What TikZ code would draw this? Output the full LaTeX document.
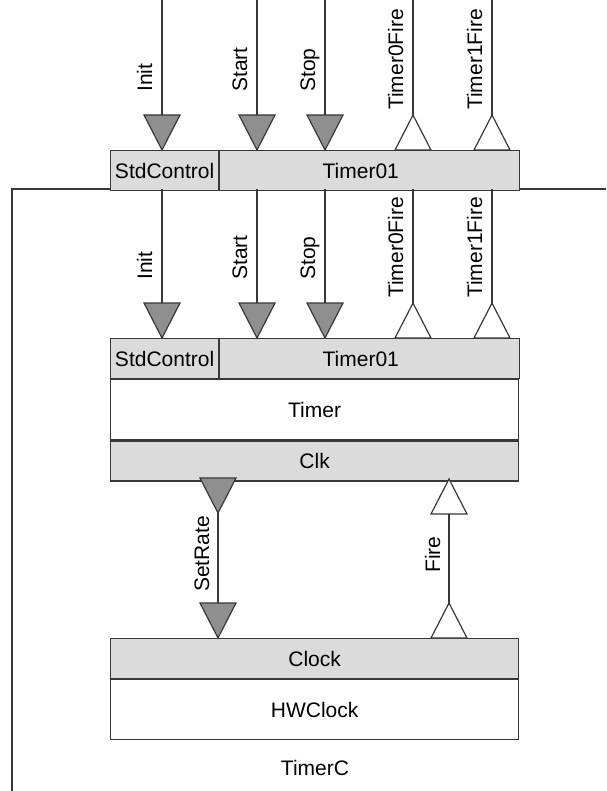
\documentclass[tikz,border=0pt]{standalone}
\usepackage{fontspec}
\setmainfont{Liberation Sans}
\usetikzlibrary{calc, positioning}

\definecolor{boxgray}{gray}{0.86}
\definecolor{portgray}{gray}{0.56}
\definecolor{linegray}{gray}{0.22}

\newcommand{\lbl}{\fontsize{21}{25}\selectfont}
% filled triangle: tip at #1, base above
\newcommand{\cmdtri}[1]{\draw[port, fill=portgray] (#1) -- ++(-18,-35) -- ++(36,0) -- cycle;}
% open triangle: tip at #1, base below
\newcommand{\evttri}[1]{\draw[port, fill=white] (#1) -- ++(-18,35) -- ++(36,0) -- cycle;}

\tikzset{
  port/.style={draw=linegray, line width=1.2pt, line join=miter},
  wire/.style={draw=linegray, line width=1.2pt},
  iface/.style={draw=linegray, line width=1.2pt, fill=boxgray, inner sep=0,
    minimum height=40, font=\lbl, anchor=north west},
  impl/.style={iface, fill=white, minimum height=60},
  sig/.style={font=\lbl, rotate=90, inner sep=0, anchor=base west},
}

\begin{document}
\begin{tikzpicture}[x=1pt, y=-1pt]
\useasboundingbox (0,0) rectangle (606,791);

% TimerC outline
\coordinate (timerc-e) at (606,189);
\coordinate (timerc-nw) at (12,189);
\coordinate (timerc-sw) at (12,791);
\draw[wire] (timerc-e) -- (timerc-nw) -- (timerc-sw);
\node[font=\lbl] (timerc) at (315,768) {TimerC};

% exported interfaces
\node[iface, minimum width=108] (topctl) at (110,150) {StdControl};
\node[iface, minimum width=300] (toptmr) at (topctl.north east) {Timer01\hspace*{18pt}};

% Timer component
\node[iface, minimum width=108] (ctl) at (110,338) {StdControl};
\node[iface, minimum width=300] (tmr) at (ctl.north east) {Timer01\hspace*{18pt}};
\node[impl, minimum width=408] (timer) at (ctl.south west) {Timer};
\node[iface, minimum width=408] (clk) at (timer.south west) {Clk};

% HWClock component
\node[iface, minimum width=408] (clock) at (110,638) {Clock};
\node[impl, minimum width=408] (hwclock) at (clock.south west) {HWClock};

% Init/Start/Stop and fired events, twice
\foreach \ytop/\ybox/\s in {0/150/a, 189/338/b} {
  \foreach \name/\x in {Init/162, Start/257, Stop/325} {
    \coordinate (\s-\name-top) at (\x,\ytop);
    \coordinate (\s-\name-base) at (\x,\ybox-35);
    \draw[wire] (\s-\name-top) -- (\s-\name-base);
    \cmdtri{\x,\ybox}
    \node[sig] at (\x-10,\ybox-58) {\name};
  }
  \foreach \name/\x in {Timer0Fire/413, Timer1Fire/492} {
    \coordinate (\s-\name-top) at (\x,\ytop);
    \coordinate (\s-\name-tip) at (\x,\ybox-35);
    \draw[wire] (\s-\name-top) -- (\s-\name-tip);
    \evttri{\x,\ybox-35}
    \node[sig] at (\x-10,\ybox-40) {\name};
  }
}

% Clk <-> Clock
\coordinate (setrate-tip) at (218,513);
\coordinate (setrate-base) at (218,603);
\cmdtri{setrate-tip}
\draw[wire] (setrate-tip) -- (setrate-base);
\cmdtri{218,638}
\node[sig] at (209,592) {SetRate};

\coordinate (fire-base) at (449,514);
\coordinate (fire-tip) at (449,603);
\evttri{449,479}
\draw[wire] (fire-base) -- (fire-tip);
\evttri{fire-tip}
\node[sig] at (440,573) {Fire};
\end{tikzpicture}
\end{document}
